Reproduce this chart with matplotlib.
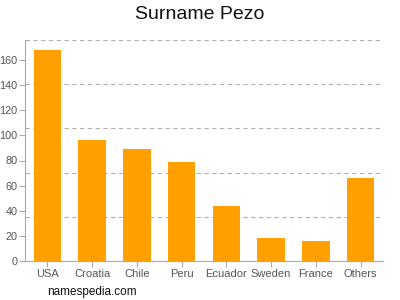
import matplotlib
matplotlib.use("Agg")
import matplotlib.pyplot as plt
import numpy as np

plt.rcParams["font.family"] = ["Liberation Sans", "DejaVu Sans"]

# data
countries = ["USA", "Croatia", "Chile", "Peru", "Ecuador", "Sweden", "France", "Others"]
counts = [168, 96, 89, 79, 44, 18, 16, 66]
y_ticks = [0, 20, 40, 60, 80, 100, 120, 140, 160]

fig = plt.figure(figsize=(4, 3), dpi=100)
ax = fig.add_axes([0.0625, 0.13, 0.895, 0.737])

x = np.arange(len(countries))
ax.bar(x, counts, width=0.62, color="#ffa000", zorder=3)

ax.set_xlim(-0.5, len(countries) - 0.5)
ax.set_ylim(0, 176)
ax.set_xticks(x)
ax.set_xticklabels(countries)
ax.set_yticks(y_ticks)

# dashed grid at five equal divisions, independent of tick labels
for g in np.linspace(0, 176, 6)[1:]:
    ax.axhline(g, color="#b0b0b0", linestyle=(0, (4, 3)), linewidth=0.8, zorder=1)

for side in ["top", "right"]:
    ax.spines[side].set_visible(False)
for side in ["left", "bottom"]:
    ax.spines[side].set_color("#aaaaaa")
ax.tick_params(colors="#aaaaaa", labelcolor="#555555", length=4, pad=1.5)
ax.tick_params(axis="x", labelsize=8)
ax.tick_params(axis="y", labelsize=7.8)

fig.text(0.5, 0.953, "Surname Pezo", ha="center", va="center", fontsize=14, color="#111111")
fig.text(0.117, 0.027, "namespedia.com", ha="left", va="center", fontsize=8.5, color="#111111")

fig.savefig("out.png", dpi=100)
